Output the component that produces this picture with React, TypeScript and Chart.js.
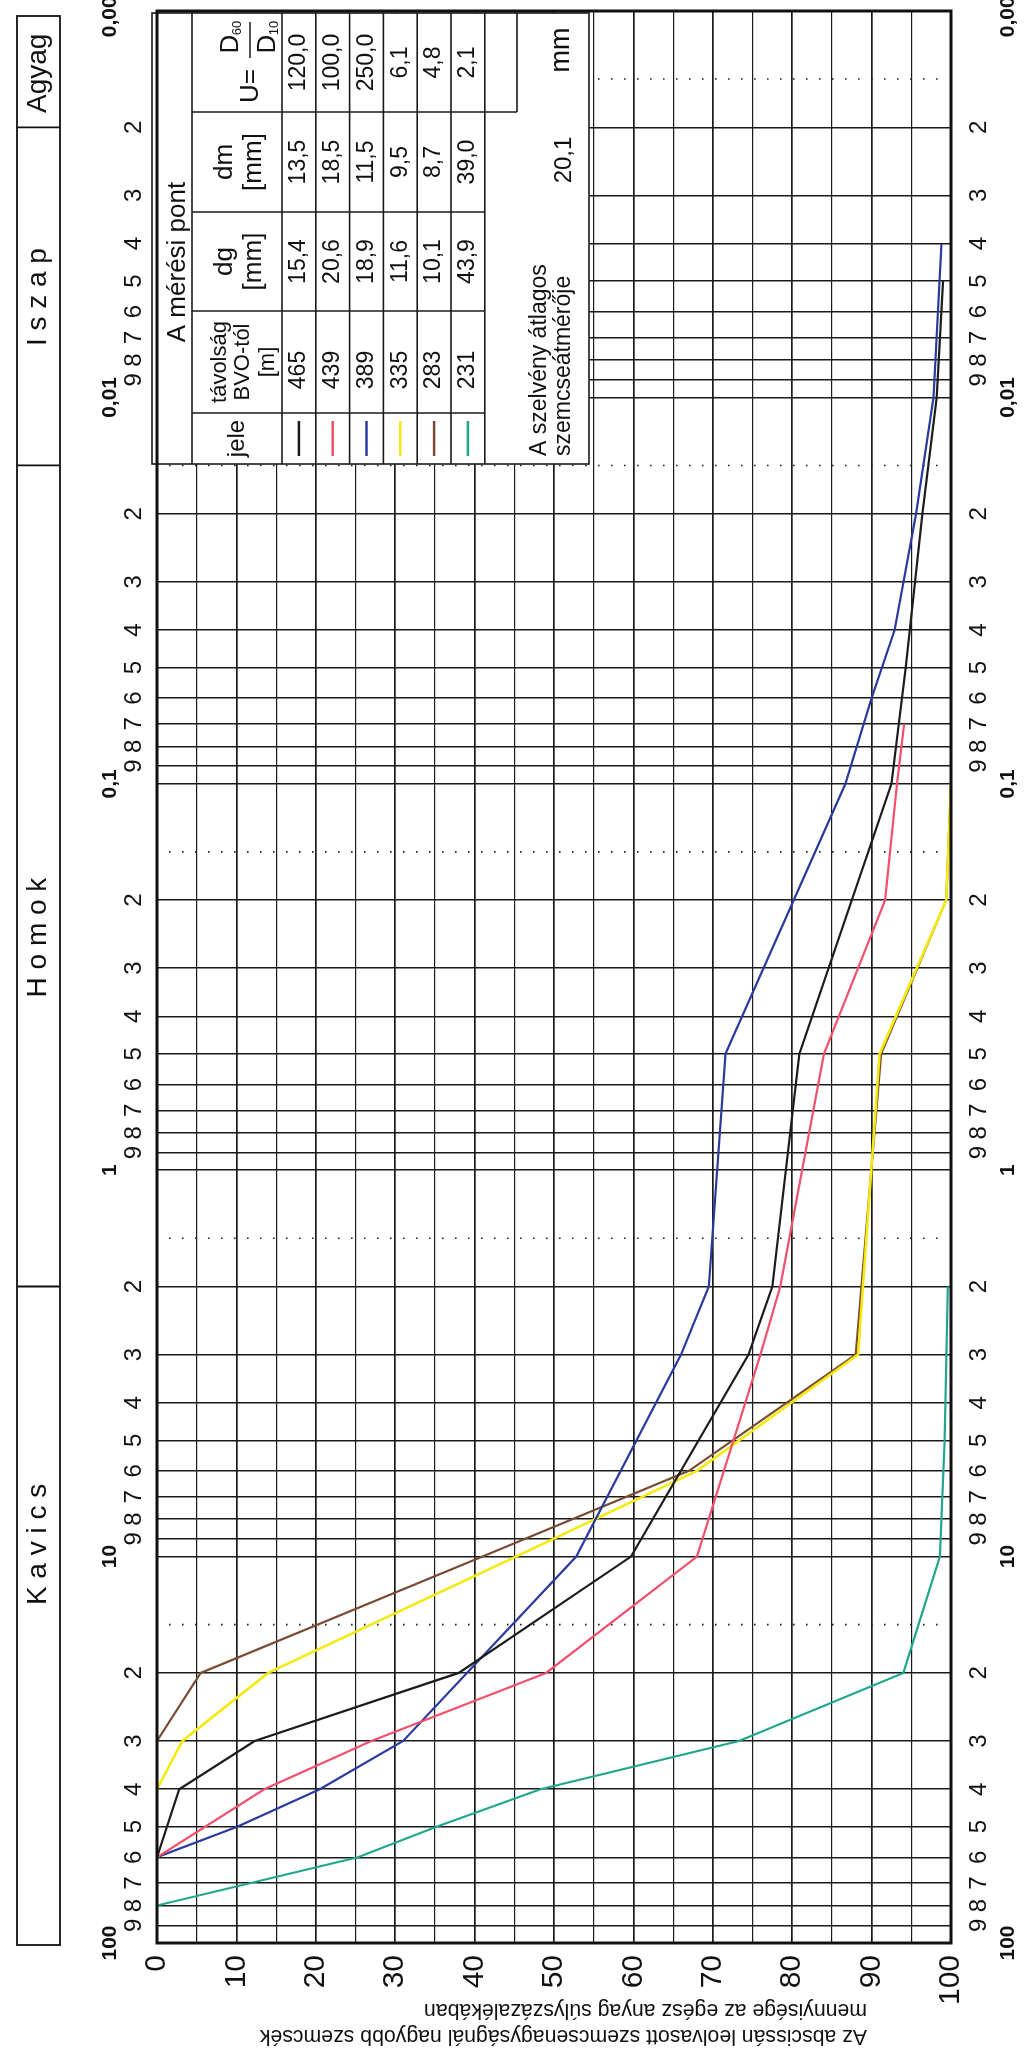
import React, { useEffect, useRef } from "react";
import { Chart, registerables } from "chart.js";

Chart.register(...registerables);

// ---------- data ----------
const percentTicks = [0, 10, 20, 30, 40, 50, 60, 70, 80, 90, 100];
const decadeValues = [0.001, 0.01, 0.1, 1, 10, 100];
const decadeLabels = ["0,001", "0,01", "0,1", "1", "10", "100"];
const minorDigits = [2, 3, 4, 5, 6, 7, 8, 9];
const dottedSizes = [0.0015, 0.015, 0.15, 1.5, 15];
const zoneBounds = [0.002, 0.015, 2];
const zoneNames = ["Agyag", "I s z a p", "H o m o k", "K a v i c s"];
const zoneLabelSizes = [0.00145, 0.0055, 0.25, 9.3];

const blackSizes = [60, 40, 30, 20, 10, 3, 2, 0.5, 0.1, 0.05, 0.02, 0.01, 0.005];
const blackPct = [0, 2.8, 12.3, 38, 59.7, 74.5, 77.5, 80.9, 92.5, 94.3, 96.4, 98.2, 99.0];

const redSizes = [60, 40, 30, 20, 10, 3, 2, 0.5, 0.2, 0.1, 0.07];
const redPct = [0, 13.5, 27, 49, 68, 76, 78.5, 84, 91.7, 93.2, 94.1];

const blueSizes = [60, 50, 40, 30, 10, 3, 2, 0.5, 0.1, 0.06, 0.04, 0.02, 0.01, 0.004];
const bluePct = [0, 10.1, 20.5, 31, 52.8, 66, 69.5, 71.6, 86.7, 90, 92.9, 95.6, 97.8, 98.8];

const yellowSizes = [40, 30, 20, 10, 6, 3, 0.5, 0.2, 0.1];
const yellowPct = [0, 3.2, 14, 45.2, 68, 88.3, 91, 99.4, 100];

const brownSizes = [30, 20, 10, 6, 3, 0.5, 0.2, 0.1];
const brownPct = [0, 5.5, 41, 67, 88, 91.2, 99.4, 100];

const greenSizes = [80, 60, 50, 40, 30, 20, 10, 5, 2];
const greenPct = [0, 25.3, 35.2, 48.3, 73.3, 94, 98.6, 99.2, 99.6];

const seriesNames = ["465", "439", "389", "335", "283", "231"];
const seriesColors = ["#1c1c1c", "#f2506b", "#2a3a9e", "#f4ea10", "#7a4a32", "#1fa68c"];

const tableDistance = ["465", "439", "389", "335", "283", "231"];
const tableDg = ["15,4", "20,6", "18,9", "11,6", "10,1", "43,9"];
const tableDm = ["13,5", "18,5", "11,5", "9,5", "8,7", "39,0"];
const tableU = ["120,0", "100,0", "250,0", "6,1", "4,8", "2,1"];
const avgDiameter = "20,1";

const titleLine1 = "Az abscissán leolvasott szemcsenagyságnál nagyobb szemcsék";
const titleLine2 = "mennyisége az egész anyag súlyszázalékában";

// ---------- helpers ----------
const FONT = '"Liberation Sans", Arial, Helvetica, sans-serif';

function buildSizeTicks(): number[] {
  const out: number[] = [];
  for (let e = -3; e <= 1; e++) {
    for (let m = 1; m <= 9; m++) out.push(Number((m * Math.pow(10, e)).toPrecision(3)));
  }
  out.push(100);
  return out;
}

function rtext(
  ctx: CanvasRenderingContext2D,
  text: string,
  x: number,
  y: number,
  font: string,
  align: CanvasTextAlign = "center",
  angle = -Math.PI / 2
) {
  ctx.save();
  ctx.translate(x, y);
  ctx.rotate(angle);
  ctx.font = font;
  ctx.textAlign = align;
  ctx.textBaseline = "middle";
  ctx.fillStyle = "#111";
  ctx.fillText(text, 0, 0);
  ctx.restore();
}

function line(ctx: CanvasRenderingContext2D, x1: number, y1: number, x2: number, y2: number) {
  ctx.beginPath();
  ctx.moveTo(x1, y1);
  ctx.lineTo(x2, y2);
  ctx.stroke();
}

// table layout (display coordinates)
const T = {
  left: 152,
  top: 13,
  right: 589,
  bottom: 464,
  strip: 192,
  head: 282,
  rowW: 33.8,
  emptyR: 517,
  yU: 112,
  yDm: 212,
  yDg: 311,
  yDist: 413,
};

function drawTable(ctx: CanvasRenderingContext2D) {
  ctx.save();
  ctx.fillStyle = "#fff";
  ctx.fillRect(T.left, T.top, T.right - T.left, T.bottom - T.top);
  ctx.strokeStyle = "#1a1a1a";
  ctx.lineWidth = 1.6;
  ctx.strokeRect(T.left, T.top, T.right - T.left, T.bottom - T.top);
  const rowsEnd = T.head + 6 * T.rowW;
  line(ctx, T.strip, T.top, T.strip, T.bottom);
  line(ctx, T.head, T.top, T.head, T.bottom);
  for (let i = 1; i <= 6; i++) line(ctx, T.head + i * T.rowW, T.top, T.head + i * T.rowW, T.bottom);
  line(ctx, T.emptyR, T.top, T.emptyR, T.yU);
  line(ctx, T.strip, T.yU, T.emptyR, T.yU);
  line(ctx, T.strip, T.yDm, rowsEnd, T.yDm);
  line(ctx, T.strip, T.yDg, rowsEnd, T.yDg);
  line(ctx, T.strip, T.yDist, rowsEnd, T.yDist);

  // header texts
  rtext(ctx, "A mérési pont", 178, 262, `26px ${FONT}`);
  // U = D60 / D10
  rtext(ctx, "U=", 251, 86, `26px ${FONT}`);
  const fx = 251;
  const fy = 40;
  rtext(ctx, "D", fx - 20, fy + 4, `26px ${FONT}`);
  rtext(ctx, "60", fx - 14, fy - 12, `13px ${FONT}`);
  rtext(ctx, "D", fx + 17, fy + 4, `26px ${FONT}`);
  rtext(ctx, "10", fx + 23, fy - 12, `13px ${FONT}`);
  ctx.save();
  ctx.lineWidth = 1.5;
  line(ctx, fx - 1, fy - 18, fx - 1, fy + 18);
  ctx.restore();

  rtext(ctx, "dm", 225, (T.yU + T.yDm) / 2, `26px ${FONT}`);
  rtext(ctx, "[mm]", 254, (T.yU + T.yDm) / 2, `26px ${FONT}`);
  rtext(ctx, "dg", 225, (T.yDm + T.yDg) / 2, `26px ${FONT}`);
  rtext(ctx, "[mm]", 254, (T.yDm + T.yDg) / 2, `26px ${FONT}`);
  rtext(ctx, "távolság", 220, (T.yDg + T.yDist) / 2, `22px ${FONT}`);
  rtext(ctx, "BVO-tól", 243, (T.yDg + T.yDist) / 2, `22px ${FONT}`);
  rtext(ctx, "[m]", 268, (T.yDg + T.yDist) / 2, `22px ${FONT}`);
  rtext(ctx, "jele", 237, (T.yDist + T.bottom) / 2, `24px ${FONT}`);

  for (let i = 0; i < 6; i++) {
    const cx = T.head + (i + 0.5) * T.rowW;
    rtext(ctx, tableU[i], cx, (T.top + T.yU) / 2, `23px ${FONT}`);
    rtext(ctx, tableDm[i], cx, (T.yU + T.yDm) / 2, `23px ${FONT}`);
    rtext(ctx, tableDg[i], cx, (T.yDm + T.yDg) / 2, `23px ${FONT}`);
    rtext(ctx, tableDistance[i], cx, (T.yDg + T.yDist) / 2 + 8, `23px ${FONT}`);
    ctx.save();
    ctx.strokeStyle = seriesColors[i];
    ctx.lineWidth = 2.5;
    line(ctx, cx, T.yDist + 8, cx, T.bottom - 8);
    ctx.restore();
  }

  rtext(ctx, "A szelvény átlagos", 540, T.bottom - 8, `23px ${FONT}`, "left");
  rtext(ctx, "szemcseátmérője", 564, T.bottom - 8, `23px ${FONT}`, "left");
  rtext(ctx, avgDiameter, 564, 160, `24px ${FONT}`);
  rtext(ctx, "mm", 562, 50, `27px ${FONT}`);
  ctx.restore();
}

const overlayPlugin = {
  id: "overlay",
  beforeDatasetsDraw(chart: any) {
    const { ctx, chartArea: a, scales } = chart;
    const y = scales.y;
    ctx.save();
    ctx.strokeStyle = "#222";
    ctx.lineWidth = 1.6;
    ctx.setLineDash([1.6, 11.4]);
    for (const v of dottedSizes) {
      const py = y.getPixelForValue(v);
      line(ctx, a.left + 12, py, a.right - 10, py);
    }
    ctx.restore();
    drawTable(ctx);
  },
  afterDraw(chart: any) {
    const { ctx, chartArea: a, scales } = chart;
    const x = scales.x;
    const y = scales.y;
    ctx.save();
    // frame
    ctx.strokeStyle = "#111";
    ctx.lineWidth = 3;
    ctx.strokeRect(a.left, a.top, a.right - a.left, a.bottom - a.top);

    // zone band
    ctx.lineWidth = 1.8;
    const bandL = 17;
    const bandR = 60;
    const bandTop = 16;
    const bandBottom = a.bottom + 2;
    ctx.strokeRect(bandL, bandTop, bandR - bandL, bandBottom - bandTop);
    zoneBounds.forEach((v) => {
      const py = y.getPixelForValue(v);
      line(ctx, bandL, py, bandR, py);
    });
    zoneNames.forEach((n, i) => {
      rtext(ctx, n, (bandL + bandR) / 2, y.getPixelForValue(zoneLabelSizes[i]), `28px ${FONT}`);
    });

    // size labels on both sides
    for (let e = -3; e <= 1; e++) {
      for (const m of minorDigits) {
        const py = y.getPixelForValue(m * Math.pow(10, e));
        rtext(ctx, String(m), 134, py, `24px ${FONT}`);
        rtext(ctx, String(m), 979, py, `24px ${FONT}`);
      }
    }
    decadeValues.forEach((v, i) => {
      const py = y.getPixelForValue(v);
      rtext(ctx, decadeLabels[i], 110, py, `bold 21px ${FONT}`);
      rtext(ctx, decadeLabels[i], 1008, py, `bold 21px ${FONT}`);
    });

    // percent labels
    percentTicks.forEach((p) => {
      rtext(ctx, String(p), x.getPixelForValue(p), a.bottom + 12, `30px ${FONT}`, "right");
    });

    // upside-down axis title
    ctx.font = `20px ${FONT}`;
    const w1 = ctx.measureText(titleLine1).width;
    const fs = (20 * 607) / w1;
    rtext(ctx, titleLine1, 867, 2036, `${fs.toFixed(2)}px ${FONT}`, "left", Math.PI);
    rtext(ctx, titleLine2, 867, 2010, `${fs.toFixed(2)}px ${FONT}`, "left", Math.PI);
    ctx.restore();
  },
};

export default function App() {
  const ref = useRef<HTMLCanvasElement | null>(null);

  useEffect(() => {
    const canvas = ref.current;
    if (!canvas) return;
    const sizes = [blackSizes, redSizes, blueSizes, yellowSizes, brownSizes, greenSizes];
    const pcts = [blackPct, redPct, bluePct, yellowPct, brownPct, greenPct];
    const datasets = sizes.map((s, i) => ({
      label: seriesNames[i],
      data: s.map((d, k) => ({ x: pcts[i][k], y: d })),
      borderColor: seriesColors[i],
      backgroundColor: seriesColors[i],
      borderWidth: i === 3 ? 2.6 : 2.2,
      pointRadius: 0,
      showLine: true,
      fill: false,
      tension: 0,
    }));
    const sizeTicks = buildSizeTicks();

    const chart = new Chart(canvas, {
      type: "scatter",
      data: { datasets },
      options: {
        animation: false,
        responsive: false,
        devicePixelRatio: 1,
        layout: { padding: { left: 157, right: 73, top: 11, bottom: 112 } },
        plugins: { legend: { display: false }, tooltip: { enabled: false } },
        scales: {
          x: {
            type: "linear",
            min: 0,
            max: 100,
            ticks: { display: false, stepSize: 5 },
            grid: {
              color: "#1a1a1a",
              lineWidth: (c: any) => (c.tick && c.tick.value % 10 === 0 ? 1.7 : 1.2),
              drawTicks: false,
            },
            border: { display: false },
            afterFit: (s: any) => {
              s.height = 0;
            },
          },
          y: {
            type: "logarithmic",
            min: 0.001,
            max: 100,
            reverse: true,
            ticks: { display: false },
            afterBuildTicks: (s: any) => {
              s.ticks = sizeTicks.map((v) => ({ value: v }));
            },
            grid: {
              color: "#1a1a1a",
              lineWidth: 1.5,
              drawTicks: false,
            },
            border: { display: false },
            afterFit: (s: any) => {
              s.width = 0;
            },
          },
        },
      },
      plugins: [overlayPlugin],
    } as any);

    return () => chart.destroy();
  }, []);

  return (
    <div style={{ position: "absolute", left: 0, top: 0, width: 1024, height: 2055, background: "#fff" }}>
      <canvas ref={ref} width={1024} height={2055} style={{ display: "block" }} />
    </div>
  );
}
